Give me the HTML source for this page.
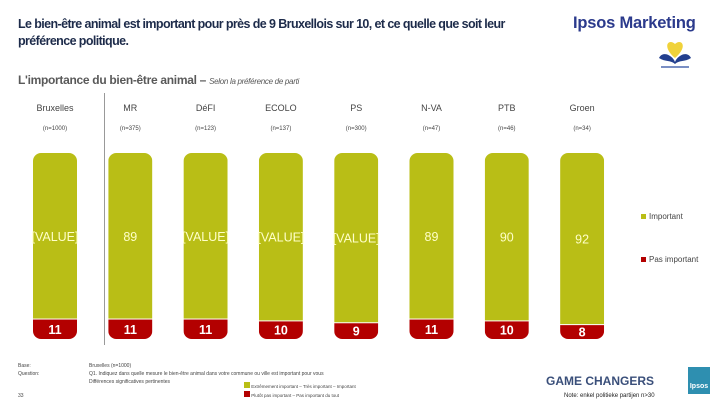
<!DOCTYPE html>
<html><head><meta charset="utf-8"><style>
body{margin:0;width:720px;height:405px;background:#fff;position:relative;overflow:hidden;font-family:"Liberation Sans",sans-serif}
.abs{position:absolute}
</style></head><body>
<div class="abs" style="left:18px;top:16px;width:540px;font-size:12.5px;line-height:17px;color:#1d2b4a;font-weight:bold;letter-spacing:-0.6px">Le bien-être animal est important pour près de 9 Bruxellois sur 10, et ce quelle que soit leur préférence politique.</div>
<div class="abs" style="left:573px;top:14px;font-size:16.5px;font-weight:bold;color:#2b3a8c;letter-spacing:-0.2px">Ipsos Marketing</div>
<svg class="abs" style="left:655px;top:40px" width="40" height="30"><path d="M20 4 C14 -2 6 6 20 18 C34 6 26 -2 20 4Z" fill="#f0d23a"/><path d="M4 18 C8 10 18 16 20 22 C22 16 32 10 36 18 C30 22 24 20 20 24 C16 20 10 22 4 18Z" fill="#233f8e"/><rect x="6" y="26" width="28" height="2" fill="#7a8fc4"/></svg>
<div class="abs" style="left:18px;top:73px;font-size:12px;color:#595959;font-weight:bold;letter-spacing:-0.3px">L'importance du bien-être animal – <span style="font-size:8px;font-style:italic;font-weight:normal">Selon la préférence de parti</span></div>
<div class="abs" style="left:104px;top:93px;width:1px;height:252px;background:#999"></div>
<svg id="chart" class="abs" style="left:0;top:0" width="720" height="405"></svg>
<div class="abs" style="left:641px;top:212px;font-size:8px;color:#444"><span style="display:inline-block;width:5px;height:5px;background:#b9be16;margin-right:3px"></span>Important</div>
<div class="abs" style="left:641px;top:255px;font-size:8px;color:#444"><span style="display:inline-block;width:5px;height:5px;background:#b30000;margin-right:3px"></span>Pas important</div>
<div class="abs" style="left:18px;top:362px;font-size:5px;line-height:8px;color:#444">Base:<br>Question:</div>
<div class="abs" style="left:18px;top:393px;font-size:5px;color:#444">33</div>
<div class="abs" style="left:89px;top:362px;font-size:5px;line-height:8px;color:#444">Bruxelles (n=1000)<br>Q1. Indiquez dans quelle mesure le bien-être animal dans votre commune ou ville est important pour vous<br>Différences significatives pertinentes</div>
<div class="abs" style="left:244px;top:382px;font-size:4.5px;line-height:9px;color:#444"><span style="display:inline-block;width:6px;height:6px;background:#b9be16"></span> Extrêmement important – Très important – Important<br><span style="display:inline-block;width:6px;height:6px;background:#b30000"></span> Plutôt pas important – Pas important du tout</div>
<div class="abs" style="left:546px;top:374px;font-size:12px;font-weight:bold;color:#3a4f7a">GAME CHANGERS</div>
<div class="abs" style="left:688px;top:367px;width:22px;height:27px;background:#2e8fb0;color:#fff;font-size:7px;font-weight:bold;text-align:center;line-height:40px">Ipsos</div>
<div class="abs" style="left:564px;top:393px;font-size:6px;color:#222">Note: enkel politieke partijen n&gt;30</div>
<script>
const categories=["Bruxelles","MR","DéFI","ECOLO","PS","N-VA","PTB","Groen"];
const sampleSizes=["(n=1000)","(n=375)","(n=123)","(n=137)","(n=300)","(n=47)","(n=46)","(n=34)"];
const importantValues=[89,89,89,90,91,89,90,92];
const importantLabels=["[VALUE]","89","[VALUE]","[VALUE]","[VALUE]","89","90","92"];
const notImportantValues=[11,11,11,10,9,11,10,8];
const svg=document.getElementById('chart');
const NS='http://www.w3.org/2000/svg';
const x0=55,step=75.3,bw=44,yTop=153,yBot=339;
const xc=i=>x0+i*step;
const yScale=v=>yBot-(v/100)*(yBot-yTop);
function mk(t,a){const e=document.createElementNS(NS,t);for(const k in a)e.setAttribute(k,a[k]);svg.appendChild(e);return e;}
categories.forEach((c,i)=>{
  const cx=xc(i),left=cx-bw/2,r=8;
  const tot=importantValues[i]+notImportantValues[i];
  const top=yScale(tot),mid=yScale(notImportantValues[i]);
  const clipId='clip'+i;
  const cp=mk('clipPath',{id:clipId});
  const cr=document.createElementNS(NS,'rect');
  cr.setAttribute('x',left);cr.setAttribute('y',top);cr.setAttribute('width',bw);cr.setAttribute('height',yBot-top);cr.setAttribute('rx',r);
  cp.appendChild(cr);
  const g=mk('rect',{x:left,y:top,width:bw,height:mid-top,fill:'#b9be16','clip-path':'url(#'+clipId+')'});
  
  
  const rr=mk('rect',{x:left,y:mid+1,width:bw,height:yBot-mid-1,fill:'#b30000','clip-path':'url(#'+clipId+')'});
  
  
  const t1=mk('text',{x:cx,y:(top+mid)/2+5,'text-anchor':'middle','font-size':'12.5',fill:'#ffffc8','font-family':'Liberation Sans'});
  t1.textContent=importantLabels[i];
  
  
  const t2=mk('text',{x:cx,y:(mid+yBot)/2+5,'text-anchor':'middle','font-size':'12.5','font-weight':'bold',fill:'#fff','font-family':'Liberation Sans'});
  t2.textContent=notImportantValues[i];
  
  
  const h=mk('text',{x:cx,y:111,'text-anchor':'middle','font-size':'9',fill:'#444','font-family':'Liberation Sans'});
  h.textContent=c;
  
  
  const n=mk('text',{x:cx,y:130,'text-anchor':'middle','font-size':'6',fill:'#444','font-family':'Liberation Sans'});
  n.textContent=sampleSizes[i];
  
  
});
</script>
</body></html>
